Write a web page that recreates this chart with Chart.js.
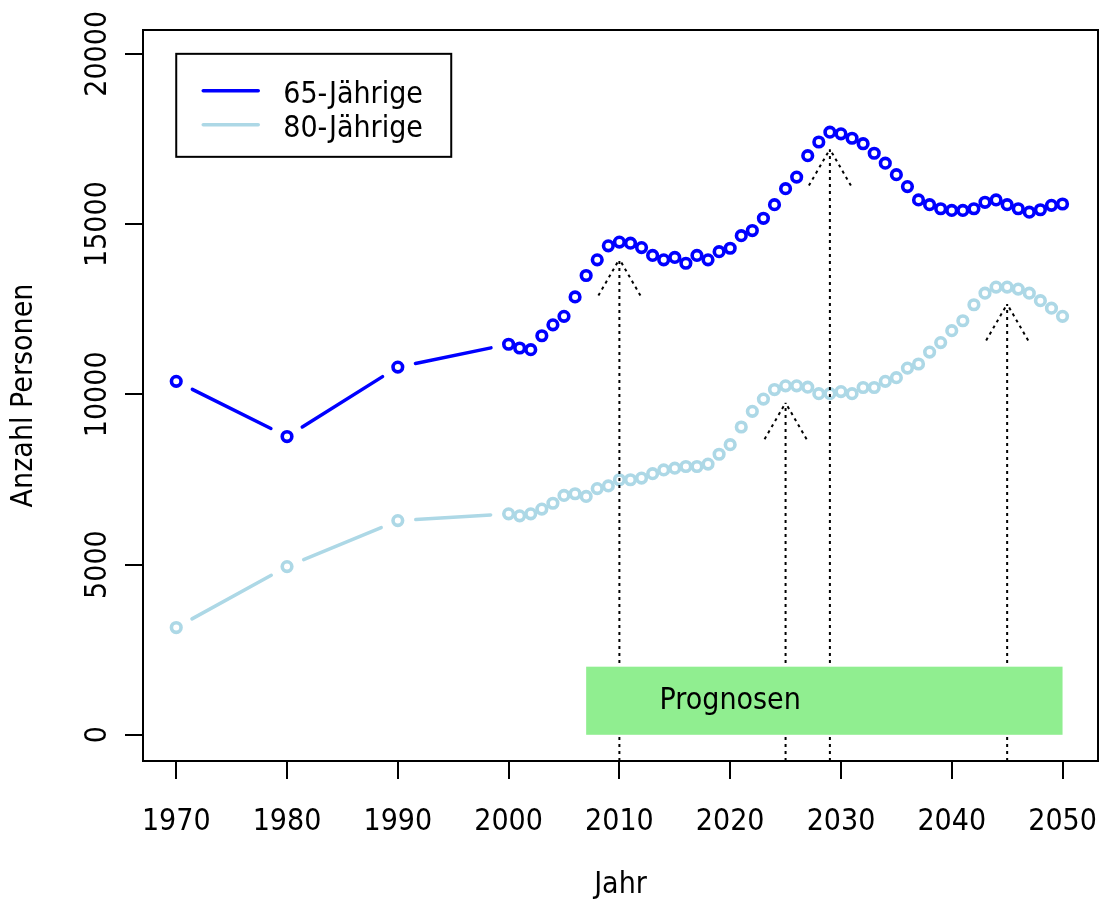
<!doctype html>
<html lang="de">
<head>
<meta charset="utf-8">
<title>65- und 80-Jährige</title>
<script src="https://cdn.jsdelivr.net/npm/chart.js@4/dist/chart.umd.min.js"></script>
<style>
  html, body { margin: 0; padding: 0; background: #fff; }
</style>
</head>
<body>
<canvas id="chart" width="1101" height="903"></canvas>
<script>
// Jahre: zuerst Jahrzehnte, ab 2001 jährlich
var jahre = [1970, 1980, 1990, 2000,
  2001, 2002, 2003, 2004, 2005, 2006, 2007, 2008, 2009, 2010,
  2011, 2012, 2013, 2014, 2015, 2016, 2017, 2018, 2019, 2020,
  2021, 2022, 2023, 2024, 2025, 2026, 2027, 2028, 2029, 2030,
  2031, 2032, 2033, 2034, 2035, 2036, 2037, 2038, 2039, 2040,
  2041, 2042, 2043, 2044, 2045, 2046, 2047, 2048, 2049, 2050];

var j65 = [10380, 8760, 10800, 11470,
  11360, 11310, 11720, 12040, 12290, 12860, 13490, 13950, 14360, 14470,
  14440, 14310, 14080, 13950, 14020, 13850, 14080, 13950, 14190, 14290,
  14660, 14810, 15170, 15570, 16040, 16380, 17010, 17410, 17700, 17650,
  17520, 17360, 17080, 16790, 16450, 16100, 15710, 15570, 15450, 15400,
  15400, 15450, 15640, 15710, 15570, 15450, 15350, 15420, 15550, 15590];

var j80 = [3150, 4940, 6290, 6490,
  6430, 6490, 6630, 6800, 7030, 7080, 7000, 7230, 7310, 7490,
  7490, 7540, 7670, 7780, 7830, 7880, 7880, 7950, 8240, 8520,
  9040, 9500, 9860, 10140, 10250, 10250, 10210, 10020, 10020, 10080,
  10020, 10200, 10200, 10380, 10490, 10770, 10890, 11240, 11520, 11870,
  12160, 12630, 12970, 13150, 13150, 13090, 12970, 12750, 12530, 12290];

var xTicks = [1970, 1980, 1990, 2000, 2010, 2020, 2030, 2040, 2050];
var yTicks = [0, 5000, 10000, 15000, 20000];

// Pfeile auf die Spitzen (500 unter dem Wert)
var pfeilJahre = [2010, 2029, 2025, 2045];
var pfeilReihen = [j65, j65, j80, j80];

var prognose = { von: 2007, bis: 2050, hoehe: 2000, textX: 2020, textY: 1000 };

var BLAU = '#0000FF';
var HELLBLAU = '#ADD8E6';
var SCHRIFT = '"DejaVu Sans Condensed", "DejaVu Sans", sans-serif';
var GR = 30;
var LUECKE = 18;

function segmente(farbe) {
  return {
    borderColor: function (ctx) {
      return jahre[ctx.p1DataIndex] - jahre[ctx.p0DataIndex] > 1 ? farbe : 'rgba(0,0,0,0)';
    },
    borderDash: function (ctx) {
      var L = Math.hypot(ctx.p1.x - ctx.p0.x, ctx.p1.y - ctx.p0.y);
      return [Math.max(L - 2 * LUECKE, 0.01), L + 1000];
    },
    borderDashOffset: function () { return -LUECKE; }
  };
}

function reihe(name, werte, farbe) {
  return {
    label: name,
    data: werte.map(function (w, i) { return { x: jahre[i], y: w }; }),
    borderColor: farbe,
    borderWidth: 3.5,
    borderCapStyle: 'round',
    pointStyle: 'circle',
    pointRadius: 4.8,
    pointBorderWidth: 3.6,
    pointBorderColor: farbe,
    pointBackgroundColor: 'rgba(0,0,0,0)',
    tension: 0,
    segment: segmente(farbe)
  };
}

var zusatz = {
  id: 'zusatz',
  afterDatasetsDraw: function (chart) {
    var c = chart.ctx, x = chart.scales.x, y = chart.scales.y, a = chart.chartArea;
    c.save();

    // gepunktete Pfeile
    c.beginPath();
    c.rect(a.left, a.top, a.right - a.left, a.bottom - a.top);
    c.clip();
    c.strokeStyle = '#000';
    c.lineWidth = 2;
    c.setLineDash([3, 4]);
    pfeilJahre.forEach(function (jahr, i) {
      var wert = pfeilReihen[i][jahre.indexOf(jahr)] - 500;
      var px = x.getPixelForValue(jahr), py = y.getPixelForValue(wert);
      c.beginPath();
      c.moveTo(px, a.bottom);
      c.lineTo(px, py);
      c.stroke();
      [-1, 1].forEach(function (s) {
        c.beginPath();
        c.moveTo(px + s * 42 * Math.sin(Math.PI / 6), py + 42 * Math.cos(Math.PI / 6));
        c.lineTo(px, py);
        c.stroke();
      });
    });
    c.setLineDash([]);

    // Prognose-Bereich
    var x0 = x.getPixelForValue(prognose.von), x1 = x.getPixelForValue(prognose.bis);
    var y0 = y.getPixelForValue(0), y1 = y.getPixelForValue(prognose.hoehe);
    c.fillStyle = '#90EE90';
    c.fillRect(x0, y1, x1 - x0, y0 - y1);
    c.fillStyle = '#000';
    c.font = GR + 'px ' + SCHRIFT;
    c.textAlign = 'center';
    c.textBaseline = 'middle';
    c.fillText('Prognosen', x.getPixelForValue(prognose.textX), y.getPixelForValue(prognose.textY));
    c.restore();

    c.save();
    // Rahmen
    c.strokeStyle = '#000';
    c.lineWidth = 2;
    c.strokeRect(a.left, a.top, a.right - a.left, a.bottom - a.top);

    // Legende
    var lx = x.getPixelForValue(1970), ly = y.getPixelForValue(20000);
    c.fillStyle = '#fff';
    c.fillRect(lx, ly, 275, 103);
    c.strokeRect(lx, ly, 275, 103);
    c.lineWidth = 3.5;
    c.lineCap = 'round';
    [[BLAU, '65-Jährige'], [HELLBLAU, '80-Jährige']].forEach(function (e, i) {
      var yy = ly + 37 + i * 34;
      c.strokeStyle = e[0];
      c.beginPath();
      c.moveTo(lx + 27, yy);
      c.lineTo(lx + 82, yy);
      c.stroke();
      c.fillStyle = '#000';
      c.font = GR + 'px ' + SCHRIFT;
      c.textAlign = 'left';
      c.textBaseline = 'alphabetic';
      c.fillText(e[1], lx + 107, yy + 12);
    });

    // gedrehte Beschriftung der y-Achse
    c.fillStyle = '#000';
    c.font = GR + 'px ' + SCHRIFT;
    c.textAlign = 'center';
    c.textBaseline = 'alphabetic';
    y.ticks.forEach(function (t) {
      c.save();
      c.translate(106, y.getPixelForValue(t.value));
      c.rotate(-Math.PI / 2);
      c.fillText(String(t.value), 0, 0);
      c.restore();
    });
    c.restore();
  }
};

new Chart(document.getElementById('chart').getContext('2d'), {
  type: 'line',
  data: {
    datasets: [reihe('65-Jährige', j65, BLAU), reihe('80-Jährige', j80, HELLBLAU)]
  },
  options: {
    responsive: false,
    animation: false,
    events: [],
    layout: { autoPadding: false, padding: { top: 30, right: 3, left: 0, bottom: 0 } },
    plugins: { legend: { display: false }, tooltip: { enabled: false } },
    scales: {
      x: {
        type: 'linear',
        min: 1967,
        max: 2053.2,
        afterBuildTicks: function (s) { s.ticks = xTicks.map(function (v) { return { value: v }; }); },
        afterFit: function (s) { s.height = 142; s.paddingLeft = 0; s.paddingRight = 0; },
        grid: { drawOnChartArea: false, drawTicks: true, tickLength: 18, color: '#000', lineWidth: 2 },
        border: { display: false },
        ticks: {
          color: '#000', font: { family: SCHRIFT, size: GR }, padding: 25, maxRotation: 0, autoSkip: false,
          callback: function (v) { return String(v); }
        },
        title: { display: true, text: 'Jahr', color: '#000', font: { family: SCHRIFT, size: GR }, padding: { bottom: 0, top: 0 } }
      },
      y: {
        min: -770,
        max: 20700,
        afterBuildTicks: function (s) { s.ticks = yTicks.map(function (v) { return { value: v }; }); },
        afterFit: function (s) { s.width = 143; },
        grid: { drawOnChartArea: false, drawTicks: true, tickLength: 18, color: '#000', lineWidth: 2 },
        border: { display: false },
        ticks: { color: 'rgba(0,0,0,0)', font: { family: SCHRIFT, size: GR } },
        title: { display: true, text: 'Anzahl Personen', color: '#000', font: { family: SCHRIFT, size: GR }, padding: { top: 6, bottom: 0 } }
      }
    }
  },
  plugins: [zusatz]
});
</script>
</body>
</html>
